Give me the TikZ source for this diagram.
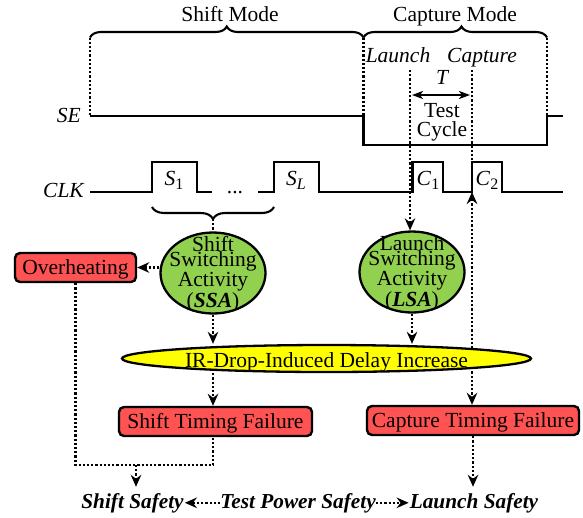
\documentclass[tikz,border=0pt]{standalone}
\usepackage{fontspec}
\setmainfont{Liberation Serif}
\usetikzlibrary{shapes.geometric,arrows.meta,decorations.pathreplacing,backgrounds}
\definecolor{failred}{RGB}{255,82,82}
\definecolor{actgreen}{RGB}{146,208,80}
\definecolor{irgold}{RGB}{255,255,0}
\newcommand\lowix[1]{\raisebox{-0.22em}{\fontsize{16}{16}\selectfont #1}}
\begin{document}
\begin{tikzpicture}[x=1pt,y=-1pt,
  every node/.style={inner sep=0pt, font=\fontsize{21.5}{22}\selectfont},
  itl/.style={font=\fontsize{21.5}{22}\selectfont\itshape},
  bil/.style={font=\fontsize{21.3}{22}\selectfont\bfseries\itshape},
  wave/.style={line width=2.6pt, line join=miter},
  bracel/.style={line width=2.1pt, decorate},
  dotl/.style={line width=2.3pt, dash pattern=on 2.2pt off 2pt},
  arr/.style={-{Stealth[length=12pt,width=10.5pt,inset=4pt]}},
  arrboth/.style={{Stealth[length=12pt,width=10.5pt,inset=4pt]}-{Stealth[length=12pt,width=10.5pt,inset=4pt]}},
  tarr/.style={line width=2.2pt, {Stealth[length=11pt,width=8pt,inset=3pt]}-{Stealth[length=11pt,width=8pt,inset=3pt]}},
  failbox/.style={draw, line width=2.4pt, rounded corners=5pt, fill=failred, minimum height=29pt, text height=14.5pt, text depth=0pt},
  actell/.style={ellipse, draw, line width=2.3pt, fill=actgreen, minimum width=105pt, minimum height=81pt},
  acttext/.style={align=center, font=\fontsize{21.5}{15.5}\selectfont},
  irell/.style={ellipse, draw, line width=2.3pt, fill=irgold, minimum width=409pt, minimum height=27pt},
]
\useasboundingbox (0,0) rectangle (583,517);

% mode labels and braces
\node[anchor=base] (shiftmode) at (230,21) {Shift Mode};
\node[anchor=base] (capmode) at (455,21) {Capture Mode};
\coordinate (bl) at (90,37.5);
\coordinate (bm) at (363.5,37.5);
\coordinate (br) at (547,37.5);
\draw[bracel, decoration={brace, amplitude=11pt, aspect=0.5}] (bl) -- (bm);
\draw[bracel, decoration={brace, amplitude=11pt, aspect=0.534}] (bm) -- (br);

% SE waveform
\coordinate (sel) at (90,116);
\coordinate (sem) at (363.5,116);
\coordinate (ser) at (547,116);
\draw[dotl] (bl) -- (sel);
\draw[dotl] (bm) -- (sem);
\draw[dotl] (br) -- (ser);
\draw[wave] (sel) -- (sem) -- (363.5,145) -- (547,145) -- (ser) -- (563,116);
\node[itl, anchor=base east] (selab) at (81,122) {SE};

% CLK waveform
\coordinate (c2low) at (472,192);
\coordinate (c2high) at (472,162);
\draw[wave] (90,192) -- (152,192) -- (152,162) -- (197,162) -- (197,192) -- (212,192);
\draw[wave] (258,192) -- (274,192) -- (274,162) -- (319,162) -- (319,192) -- (412.5,192) -- (412.5,162) -- (443,162) -- (443,192) -- (c2low) -- (c2high) -- (502,162) -- (502,192) -- (563,192);
\node[itl, anchor=base east] (clklab) at (84,197) {CLK};
\node[anchor=base] (s1) at (174,185) {\textit{S}\lowix{1}};
\node[anchor=base] (dots) at (235,193) {...};
\node[anchor=base] (sl) at (296,185) {\textit{S}\lowix{\textit{L}}};
\node[anchor=base] (c1) at (428,185) {\textit{C}\lowix{1}};
\node[anchor=base] (c2) at (487,185) {\textit{C}\lowix{2}};

% launch / capture
\node[itl, anchor=base] (launch) at (398,62) {Launch};
\node[itl, anchor=base] (capture) at (482,62) {Capture};
\coordinate (launchtop) at (410,70);
\coordinate (captop) at (472,70);
\draw[dotl] (captop) -- (c2high);
\coordinate (tl) at (412,95);
\coordinate (tr) at (470,95);
\draw[tarr] (tl) -- (tr);
\node[itl, anchor=base] (tlab) at (442,84.5) {T};
\node[anchor=base] (testlab) at (442,117.5) {Test};
\node[anchor=base] (cyclab) at (442,136) {Cycle};

% shift pulses brace
\draw[bracel, decoration={brace, mirror, amplitude=12pt}] (152,207) -- (274,207);
\coordinate (bracetip) at (213,219);

% nodes
\node[failbox, minimum width=121pt] (over) at (75.5,267.5) {Overheating};
\node[actell] (ssa) at (213,273) {};
\node[acttext] (ssatext) at (213,274) {Shift\\Switching\\Activity\\(\textbf{\textit{SSA}})};
\node[actell] (lsa) at (412,272) {};
\node[acttext] (lsatext) at (412,273) {Launch\\Switching\\Activity\\(\textbf{\textit{LSA}})};
\node[failbox, minimum width=193pt] (stf) at (215.5,421.5) {Shift Timing Failure};
\node[failbox, minimum width=212pt] (ctf) at (473,420.5) {Capture Timing Failure};
\node[irell] (ir) at (326.5,358.5) {};
\node[text height=14.5pt, text depth=0pt] (irtext) at (326.5,360) {IR-Drop-Induced Delay Increase};

\begin{scope}[on background layer]
\draw[dotl, arrboth] (c2low) -- (c2low |- ctf.north);
\end{scope}

% connectors
\draw[dotl, arr] (launchtop) -- (launchtop |- lsa.north);
\draw[dotl] (bracetip) -- (ssa.north);
\draw[dotl, arr] (over.east -| ssa.west) -- (over.east);
\draw[dotl, arr] (ssa.south) -- (ssa.south |- ir.north);
\draw[dotl, arr] (lsa.south) -- (lsa.south |- ir.north);
\draw[dotl, arr] (ssa.south |- ir.south) -- (ssa.south |- stf.north);
\coordinate (jn) at (136,465);
\draw[dotl] (over.south) |- (jn) -| (ssa.south |- stf.south);

% bottom
\node[bil, anchor=base] (ss) at (132.5,508) {Shift Safety};
\node[bil, anchor=base] (tps) at (298,508) {Test Power Safety};
\node[bil, anchor=base] (ls) at (474,508) {Launch Safety};
\draw[dotl, arr, shorten >=1pt] (tps.west) -- (ss.east);
\draw[dotl, arr, shorten >=1pt] (tps.east) -- (ls.west);
\draw[dotl, arr, shorten >=6pt] (jn) -- (jn |- ss.north);
\draw[dotl, arr, shorten >=6pt] (ctf.south) -- (ctf.south |- ls.north);
\end{tikzpicture}
\end{document}
